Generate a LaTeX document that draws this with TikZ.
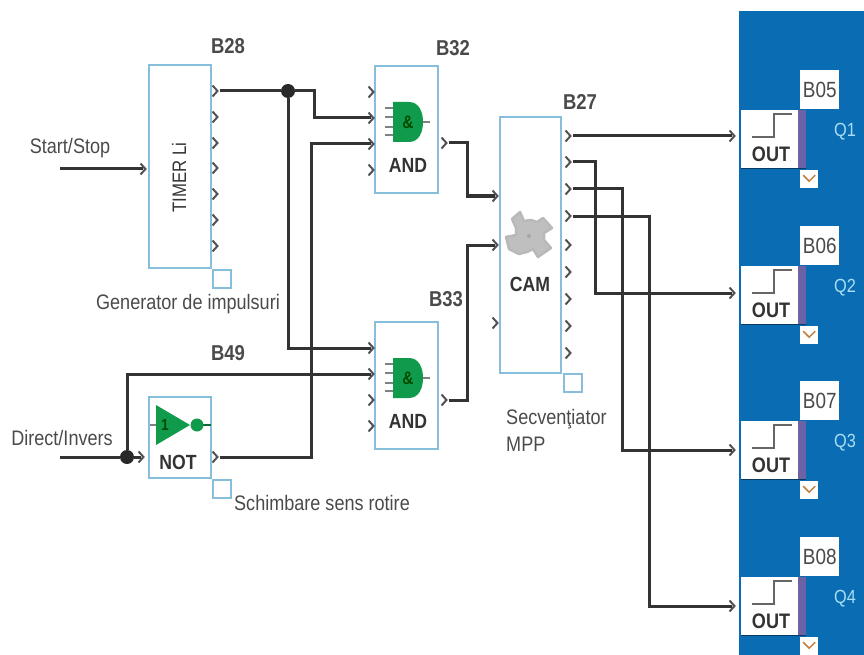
\documentclass[tikz,border=0pt]{standalone}
\usepackage{fontspec}
\setmainfont[FakeStretch=0.86]{Liberation Sans}
\usetikzlibrary{arrows.meta}
\usetikzlibrary{positioning}
\definecolor{wirecol}{HTML}{333333}
\definecolor{boxcol}{HTML}{86BEDC}
\definecolor{panelcol}{HTML}{0A6DB4}
\definecolor{gatecol}{HTML}{0F9A4C}
\definecolor{barcol}{HTML}{6E62A6}
\definecolor{txtcol}{HTML}{4A4A4A}
\definecolor{qcol}{HTML}{A9DDF4}
\tikzset{
    wire/.style={draw=wirecol, line width=3pt},
    block/.style={draw=boxcol, line width=1.8pt, fill=white, inner sep=0pt},
    tagbox/.style={draw=boxcol, line width=1.6pt, fill=white, inner sep=0pt, minimum size=18pt},
    pinmark/.style={inner sep=0pt, minimum width=9pt, minimum height=15pt,
        path picture={\draw[wirecol!85, line width=2pt] (-2.5,-5.5) -- (2.5,0) -- (-2.5,5.5);}},
    junction/.style={circle, fill=wirecol!80!black, inner sep=0pt, minimum size=14pt},
    tag/.style={font=\fontsize{21.5}{23}\selectfont\bfseries, text=txtcol, inner sep=0pt},
    note/.style={font=\fontsize{21}{27}\selectfont, text=txtcol, inner sep=0pt, align=left},
    gatename/.style={font=\fontsize{20.5}{22}\selectfont\bfseries, text=wirecol, inner sep=0pt},
    andgate/.pic={
        % Pins
        \foreach \y in {-14,-5,5,13}
            \draw[gray, line width=1.4pt] (-8,\y) -- (0,\y);
        \draw[gray, line width=1.4pt] (30,0) -- (37,0);
        % Body
        \fill[gatecol] (0,-20) -- (16,-20) .. controls (26,-20) and (30,-10) .. (30,0)
            .. controls (30,10) and (26,20) .. (16,20) -- (0,20) -- cycle;
        \node[font=\fontsize{18}{18}\selectfont\bfseries, text=green!30!black, inner sep=0pt] at (15,0) {\&};
    },
    notgate/.pic={
        \draw[gray, line width=1.4pt] (-6,0) -- (0,0);
        \draw[gatecol!70!black, line width=1.4pt] (46,0) -- (55,0);
        \fill[gatecol] (0,-20) -- (34,0) -- (0,20) -- cycle;
        \fill[gatecol] (41,0) circle (6.5pt);
        \node[font=\fontsize{16}{16}\selectfont\bfseries, text=green!30!black, inner sep=0pt] at (9,0) {1};
    },
    camgear/.pic={
        \fill[gray!50, draw=gray!55, line width=2.5pt, line join=round]
            (-17,-17) -- (-9,-24) -- (-5,-15) -- (2,-16) -- (8,-14) -- (14,-18) -- (23,-8)
            -- (15,-3) -- (15,4) -- (22,12) -- (9,21) -- (4,13) -- (-2,16) -- (-10,18)
            -- (-20,13) -- (-23,1) -- (-13,-1) -- (-13,-8) -- cycle;
        \fill[gray!70] (0,0) circle (2pt);
    },
    stepmark/.pic={
        \draw[wirecol!75, line width=2pt] (11,27) -- (33,27) -- (33,4) -- (51,4);
    },
}
\begin{document}
\begin{tikzpicture}[x=1pt, y=-1pt]
    \useasboundingbox (0,0) rectangle (864,655);

    % Output panel
    \fill[panelcol] (739,11) rectangle (864,655);

    % Timer
    \node[block, minimum width=62pt, minimum height=203pt] (timer) at (180,166.5) {};
    \node[rotate=90, font=\fontsize{19.5}{20}\selectfont, text=wirecol, inner sep=0pt] at (179,177.5) {TIMER Li};
    \node[tagbox, anchor=north west] (timertag) at (timer.south east) {};
    \node[tag] (timername) at (228,46) {B28};
    \node[note] (timernote) at (188,304) {Generator de impulsuri};
    \node[pinmark] (timerin) at (143,169) {};
    \foreach \n/\y in {1/91, 2/117, 3/143, 4/168, 5/194, 6/220, 7/246}
        \node[pinmark] (timer\n) at (215,\y) {};

    % AND gates
    \node[block, minimum width=63pt, minimum height=127pt] (andA) at (406.5,129.5) {};
    \node[block, minimum width=63pt, minimum height=127pt] (andB) at (406.5,385.5) {};
    \pic at (393,122) {andgate};
    \pic at (393,378) {andgate};
    \node[gatename] (andAname) at (408,165) {AND};
    \node[gatename] (andBname) at (408,421) {AND};
    \node[tag] (andAtag) at (453,48) {B32};
    \node[tag] (andBtag) at (446,299) {B33};
    \foreach \n/\y in {1/92, 2/118, 3/144, 4/170}
        \node[pinmark] (andA\n) at (371,\y) {};
    \foreach \n/\y in {1/348, 2/374, 3/400, 4/426}
        \node[pinmark] (andB\n) at (371,\y) {};
    \node[pinmark] (andAout) at (444,143) {};
    \node[pinmark] (andBout) at (444,400) {};

    % NOT gate
    \node[block, minimum width=62pt, minimum height=81pt] (inv) at (180,437.5) {};
    \node[tagbox, anchor=north west] (invtag) at (inv.south east) {};
    \pic at (156,425) {notgate};
    \node[gatename] (invname) at (178,462) {NOT};
    \node[tag] (invlabel) at (228,353) {B49};
    \node[note] (invnote) at (322,503) {Schimbare sens rotire};
    \node[pinmark] (invin) at (141,457) {};
    \node[pinmark] (invout) at (215,457) {};

    % Sequencer
    \node[block, minimum width=61pt, minimum height=256pt] (cam) at (530.5,245) {};
    \node[tagbox, anchor=north west] (camtag) at (563,373) {};
    \pic at (529,236) {camgear};
    \node[gatename] (camname) at (530,284) {CAM};
    \node[tag] (camlabel) at (580,102) {B27};
    \node[note, anchor=north west] (camnote) at (506,409) {Secvenţiator\\MPP};
    \foreach \n/\y in {1/196, 2/245, 3/323}
        \node[pinmark] (camin\n) at (495,\y) {};
    \foreach \n/\y in {1/136, 2/162, 3/189, 4/216, 5/245, 6/272, 7/299, 8/326, 9/353}
        \node[pinmark] (cam\n) at (568,\y) {};

    % Output blocks
    \foreach \n/\y/\t/\p in {1/0/B05/136, 2/156/B06/293, 3/311/B07/450, 4/467/B08/606} {
        \node[fill=white, inner sep=0pt, minimum width=57pt, minimum height=58pt, anchor=north west] (out\n) at (741,110+\y) {};
        \fill[barcol] (798,110+\y) rectangle (806,168+\y);
        \draw[panelcol!55!black, line width=1.5pt] (741,168.5+\y) -- (806,168.5+\y);
        \pic at (741,110+\y) {stepmark};
        \node[gatename, font=\fontsize{21}{21}\selectfont\bfseries] at (771,154+\y) {OUT};
        \node[fill=white, text=txtcol, font=\fontsize{22}{22}\selectfont, inner sep=0pt, minimum width=39pt, minimum height=39pt, anchor=north west] at (800,70+\y) {\t};
        \node[fill=white, inner sep=0pt, minimum size=18pt, anchor=north west,
            path picture={\draw[orange!50!gray, line width=1.5pt] (-6,-4) -- (0,2) -- (6,-4);}] at (800,170+\y) {};
        \node[text=qcol, font=\fontsize{19}{19}\selectfont, inner sep=0pt] at (845,132+\y) {Q\n};
        \node[pinmark] (outin\n) at (732,\p) {};
    }

    % Inputs
    \coordinate (startin) at (60,169);
    \coordinate (dirin) at (60,457);
    \node[note] (startnote) at (70,148) {Start/Stop};
    \node[note] (dirnote) at (62,438) {Direct/Invers};
    \node[junction] (jgen) at (288,91) {};
    \node[junction] (jdir) at (127,457) {};

    % Connections
    \draw[wire] (startin) -- (timerin.center);
    \draw[wire] (dirin) -- (jdir) -- (invin.center);
    \draw[wire] (jdir) |- (andB2.center);
    \draw[wire] (timer1.east) -- (jgen) -- ++(26,0) |- (andA2.center);
    \draw[wire] (jgen) |- (andB1.center);
    \draw[wire] (invout.east) -- ++(92,0) |- (andA3.center);
    \draw[wire] (andAout.east) -- ++(19,0) |- (camin1.center);
    \draw[wire] (andBout.east) -- ++(19,0) |- (camin2.center);
    \draw[wire] (cam1.east) -- (outin1.center);
    \draw[wire] (cam2.east) -- ++(23,0) |- (outin2.center);
    \draw[wire] (cam3.east) -- ++(50,0) |- (outin3.center);
    \draw[wire] (cam4.east) -- ++(77,0) |- (outin4.center);
\end{tikzpicture}
\end{document}
